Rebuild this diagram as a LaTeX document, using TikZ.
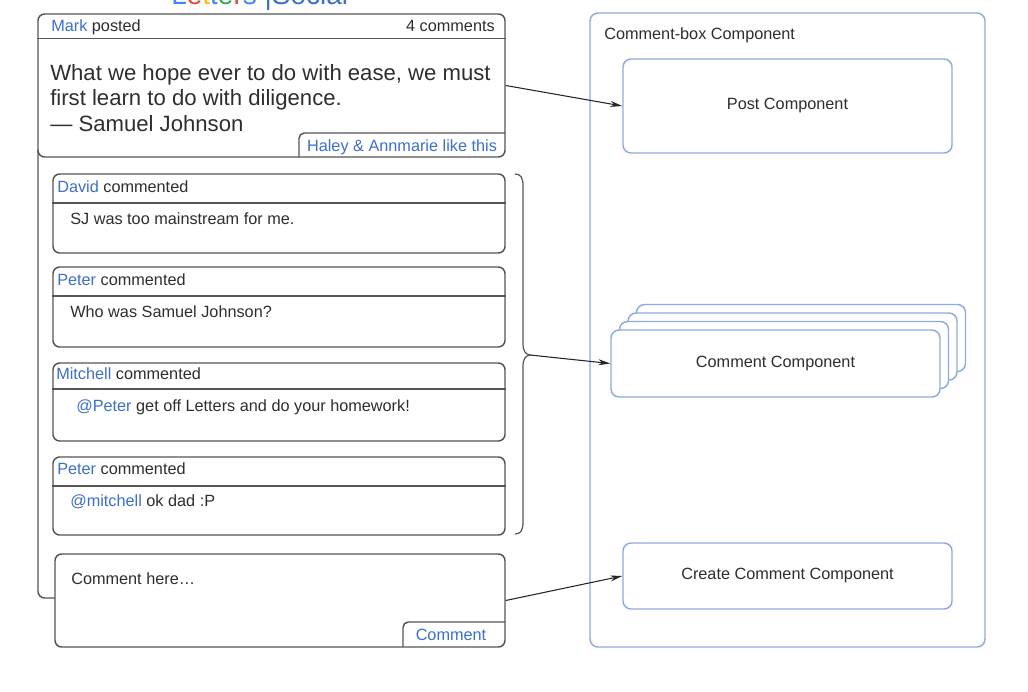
\documentclass[tikz,border=0pt]{standalone}
\usepackage{fontspec}
\setmainfont{Liberation Sans}
\usetikzlibrary{fit,arrows.meta}
\definecolor{gline}{HTML}{555555}
\definecolor{bline}{HTML}{8EABE0}
\definecolor{btext}{HTML}{3D6FCB}
\definecolor{dtext}{HTML}{2E2E2E}
\definecolor{gblue}{HTML}{4285F4}
\definecolor{gred}{HTML}{EA4335}
\definecolor{gyellow}{HTML}{FBBC05}
\definecolor{ggreen}{HTML}{34A853}
\tikzset{
  gbox/.style={draw=gline, line width=1.1pt, rounded corners=5pt, inner sep=0pt, fill=white},
  bbox/.style={draw=bline, line width=1.1pt, rounded corners=6pt, inner sep=0pt, fill=white},
  small/.style={font=\fontsize{12.2}{14}\selectfont, text=dtext, inner sep=0pt},
  big/.style={font=\fontsize{16.6}{19}\selectfont, text=dtext, inner sep=0pt},
  conn/.style={draw=black!85, line width=0.8pt, -{Stealth[length=9pt,width=4.5pt]}},
  gl/.style={draw=gline, line width=1.1pt},
}
\begin{document}
\begin{tikzpicture}[x=0.75pt,y=-0.75pt]
\useasboundingbox (0,0) rectangle (1028,692);
\fill[white] (0,0) rectangle (1028,692);
\begin{scope}
  \clip (0,0) rectangle (1028,692);
  \node[anchor=base west, inner sep=0pt, font=\fontsize{21}{24}\selectfont] (title) at (171,5)
    {\textcolor{gblue}{L}\textcolor{gred}{e}\textcolor{gyellow}{t}\textcolor{gblue}{t}\textcolor{ggreen}{e}\textcolor{gred}{r}\textcolor{gblue}{s} \textcolor{btext}{|Social}};
\end{scope}

% ---------- left: post ----------
\draw[gl, rounded corners=5pt] (38,150) -- (38,598) -- (55,598);
\node[gbox, fit={(38,14) (505,157)}] (post) {};
\draw[gl] (post.west |- 0,38.5) -- (post.east |- 0,38.5);
\draw[gl, rounded corners=4pt] (299,157) -- (299,133) -- (505,133);
\node[small, anchor=base west] (mark) at (51,31.5) {\textcolor{btext}{Mark} posted};
\node[small, anchor=base east] (ncom) at (495,31.5) {4 comments};
\node[big, anchor=base west] (q1) at (50,80) {What we hope ever to do with ease, we must};
\node[big, anchor=base west] (q2) at (50,105.5) {first learn to do with diligence.};
\node[big, anchor=base west] (q3) at (50,131) {— Samuel Johnson};
\node[small, anchor=base, text=btext] (likes) at (402,151.5) {Haley \& Annmarie like this};

% ---------- comments ----------
\node[gbox, fit={(53,174) (505,253)}] (c1) {};
\draw[gl] (c1.west |- 0,203) -- (c1.east |- 0,203);
\node[small, anchor=base west] (h1) at (57,192) {\textcolor{btext}{David} commented};
\node[small, anchor=base west] (b1) at (70,224) {SJ was too mainstream for me.};

\node[gbox, fit={(53,267) (505,347)}] (c2) {};
\draw[gl] (c2.west |- 0,296) -- (c2.east |- 0,296);
\node[small, anchor=base west] (h2) at (57,285.5) {\textcolor{btext}{Peter} commented};
\node[small, anchor=base west] (b2) at (70,317.5) {Who was Samuel Johnson?};

\node[gbox, fit={(53,363) (505,441)}] (c3) {};
\draw[gl] (c3.west |- 0,389) -- (c3.east |- 0,389);
\node[small, anchor=base west] (h3) at (56,379.5) {\textcolor{btext}{Mitchell} commented};
\node[small, anchor=base west] (b3) at (76,411.5) {\textcolor{btext}{@Peter} get off Letters and do your homework!};

\node[gbox, fit={(53,457) (505,535)}] (c4) {};
\draw[gl] (c4.west |- 0,486) -- (c4.east |- 0,486);
\node[small, anchor=base west] (h4) at (57,474.5) {\textcolor{btext}{Peter} commented};
\node[small, anchor=base west] (b4) at (70,506.5) {\textcolor{btext}{@mitchell} ok dad :P};

\node[gbox, fit={(55,554) (505,647)}] (cb) {};
\draw[gl, rounded corners=4pt] (403,647) -- (403,622) -- (505,622);
\node[small, anchor=base west] (ph) at (71,584.5) {Comment here…};
\node[small, anchor=base, text=btext] (btn) at (451,640) {Comment};

% brace
\coordinate (cusp) at (530,355);
\draw[gl, line width=0.9pt] (515,174) .. controls (521,174) and (523,178) .. (523,186)
  -- (523,343) .. controls (523,351) and (525,354) .. (cusp)
  .. controls (525,356) and (523,359) .. (523,367)
  -- (523,522) .. controls (523,530) and (521,534) .. (515,534);

% ---------- right: components ----------
\node[bbox, fit={(590,13) (985,647)}] (outer) {};
\node[small, anchor=base west] (olbl) at (604,39.5) {Comment-box Component};

\node[bbox, fit={(623,59) (952,153)}] (pc) {};
\node[small] (pcl) at (pc.center) {Post Component};

\node[bbox, fit={(636.5,304.5) (965.5,371.5)}] (fc3) {};
\node[bbox, fit={(628,313) (957,380)}] (fc2) {};
\node[bbox, fit={(619.5,321.5) (948.5,388.5)}] (fc1) {};
\node[bbox, fit={(611,330) (940,397)}] (fc) {};
\node[small] (fcl) at (fc.center) {Comment Component};

\node[bbox, fit={(623,543) (952,609)}] (cc) {};
\node[small] (ccl) at (cc.center) {Create Comment Component};

% ---------- connectors ----------
\draw[conn] (post.east) -- (pc.west);
\draw[conn] (cusp) -- (fc.west);
\draw[conn] (cb.east) -- (cc.west);
\end{tikzpicture}
\end{document}
